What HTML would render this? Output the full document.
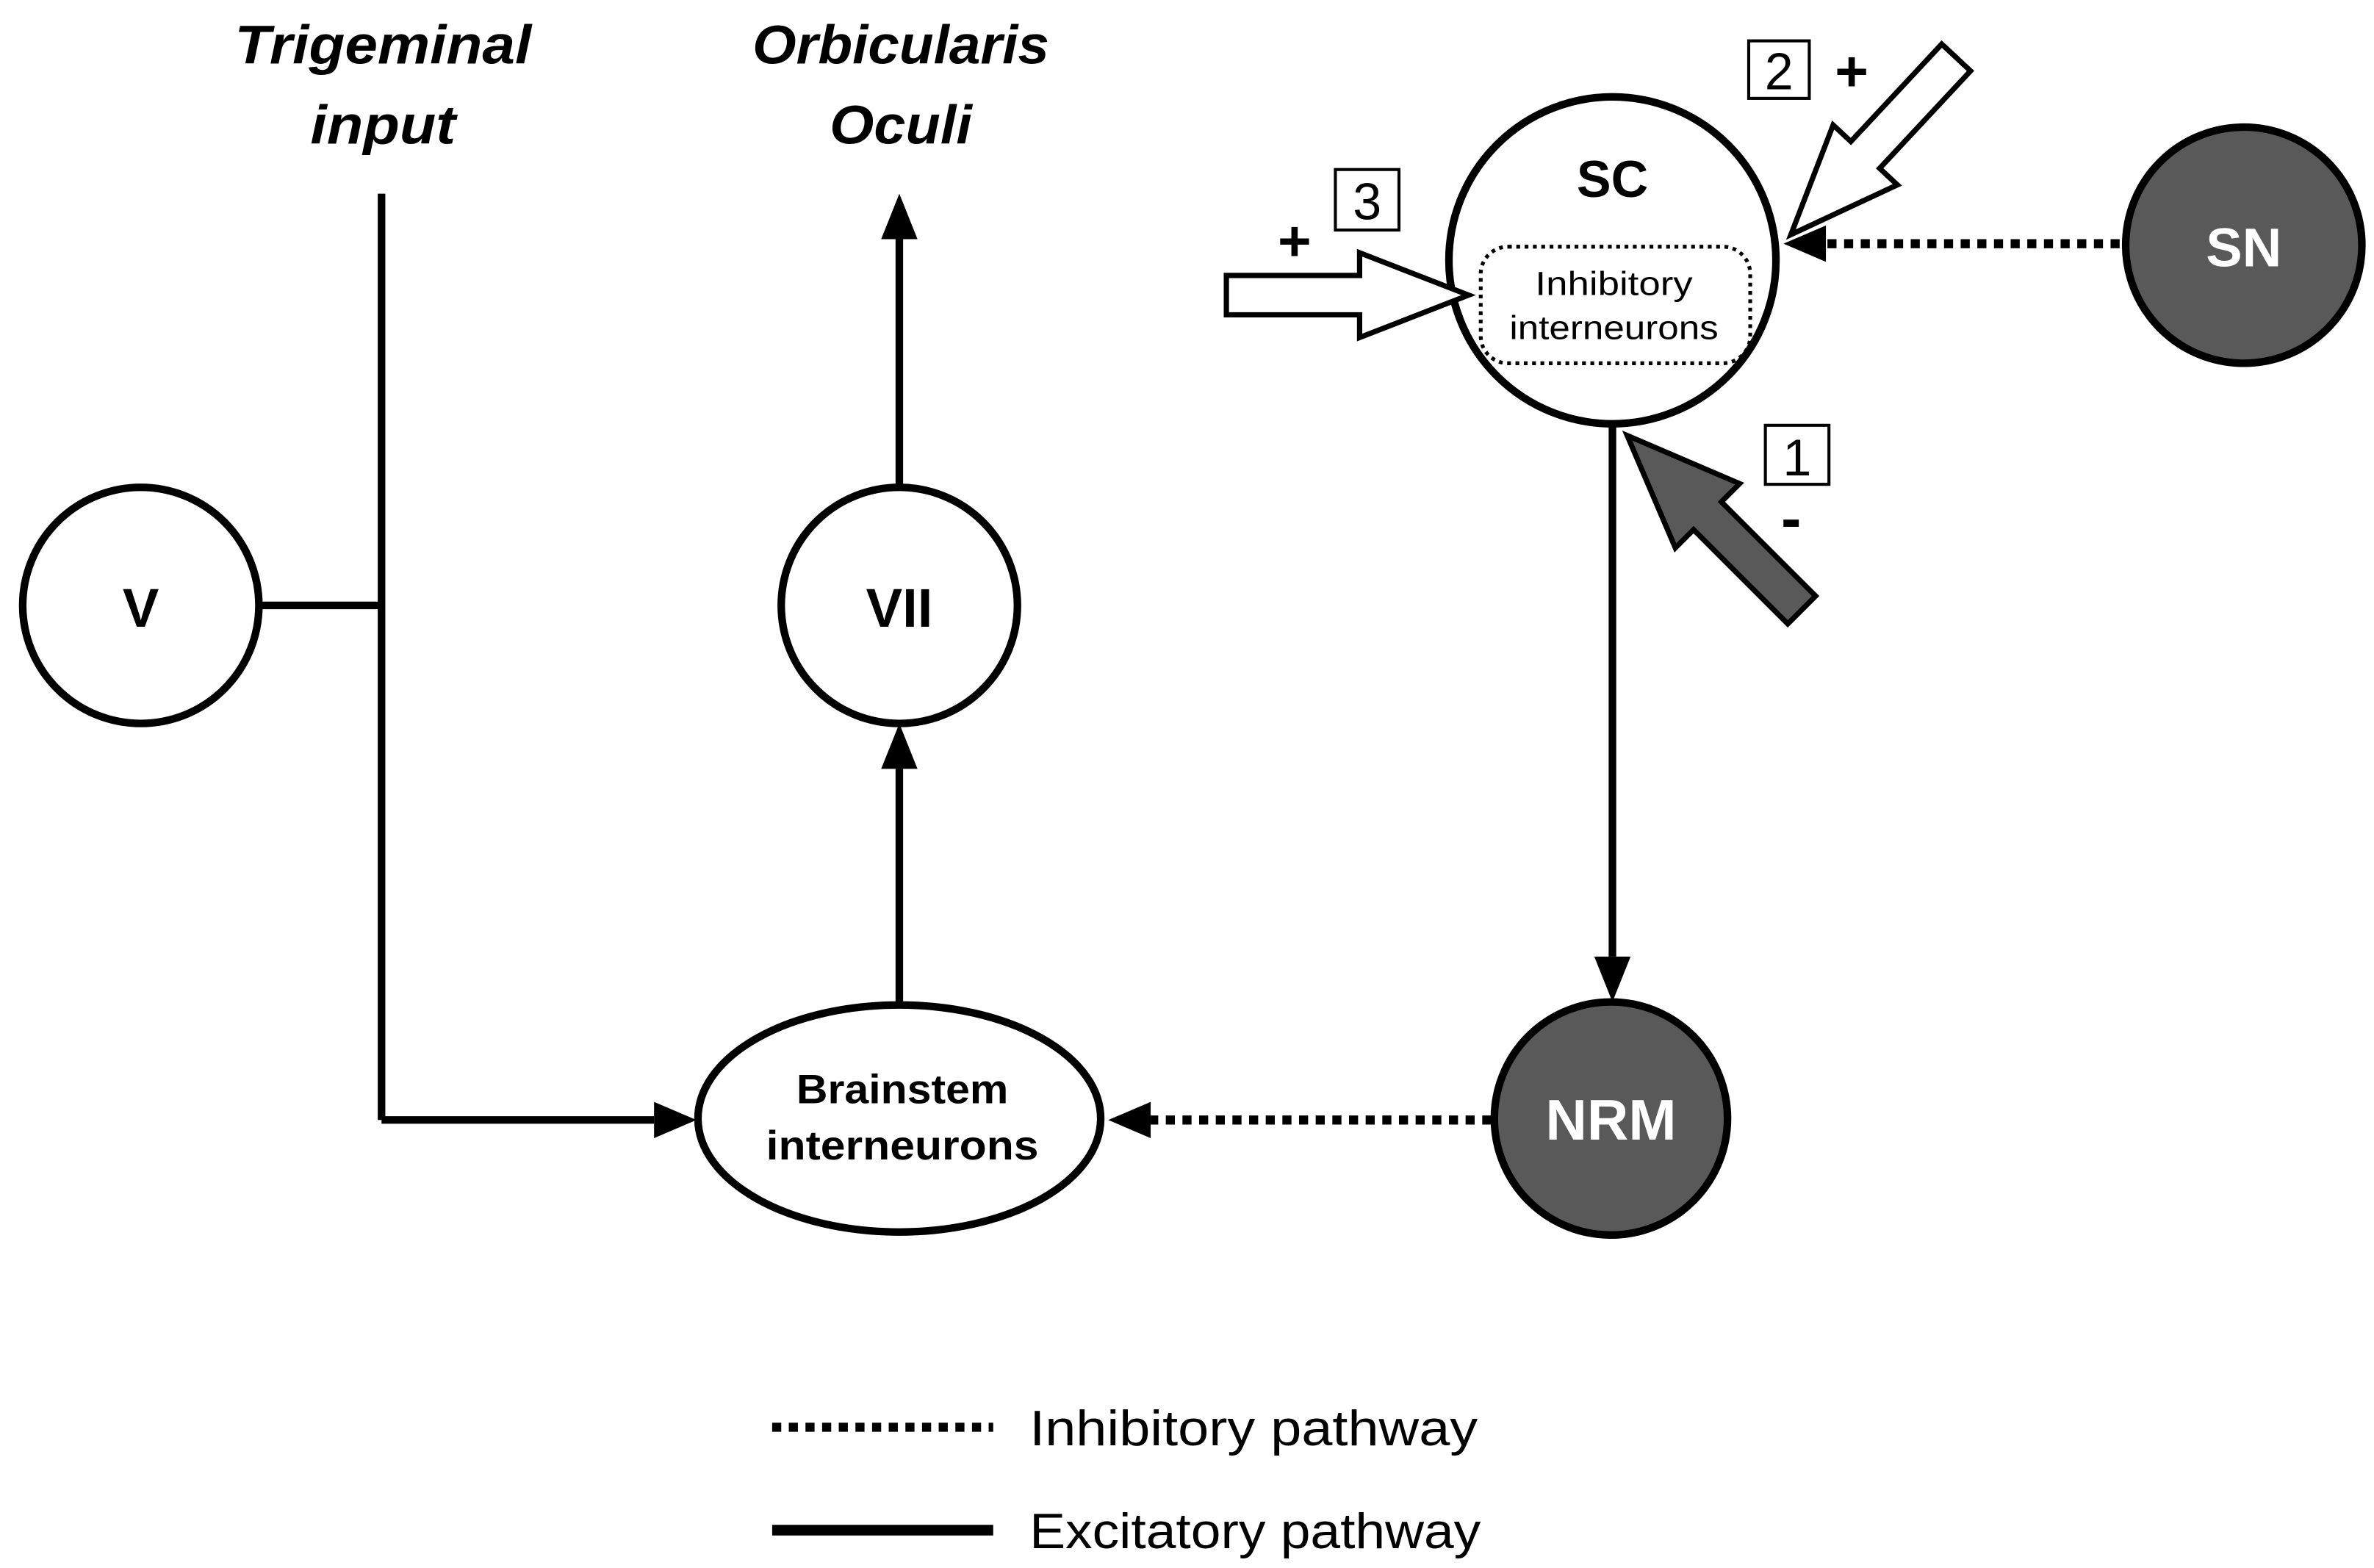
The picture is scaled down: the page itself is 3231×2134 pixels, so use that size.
<!DOCTYPE html>
<html><head><style>html,body{margin:0;padding:0;background:#fff}svg{display:block}</style></head>
<body>
<svg width="3231" height="2134" viewBox="0 0 1568 1036" preserveAspectRatio="none" xmlns="http://www.w3.org/2000/svg" font-family="Liberation Sans, sans-serif">
<g stroke="#000" stroke-width="5" fill="none">
<line x1="252" y1="128" x2="252" y2="740"/>
<line x1="171" y1="400" x2="252" y2="400"/>
<line x1="252" y1="740" x2="432" y2="740"/>
<line x1="594" y1="322" x2="594" y2="158"/>
<line x1="594" y1="662" x2="594" y2="508"/>
<line x1="1065" y1="280" x2="1065" y2="632"/>
</g>
<g fill="#000">
<polygon points="432,728 460,740 432,752"/>
<polygon points="582,158 594,128 606,158"/>
<polygon points="582,508 594,478 606,508"/>
<polygon points="1053,632 1065,662 1077,632"/>
<polygon points="760,728 732,740 760,752"/>
<polygon points="1206,149 1178,161 1206,173"/>
</g>
<g stroke="#000" stroke-width="6" fill="none" stroke-dasharray="6,5">
<line x1="985" y1="740" x2="760" y2="740"/>
<line x1="1400" y1="161" x2="1206" y2="161"/>
<line x1="510" y1="943" x2="656" y2="943"/>
</g>
<line x1="510" y1="1011" x2="656" y2="1011" stroke="#000" stroke-width="7"/>
<g stroke="#000" stroke-width="5">
<circle cx="93" cy="400" r="78" fill="#fff"/>
<circle cx="594" cy="400" r="78" fill="#fff"/>
<ellipse cx="594" cy="739" rx="133" ry="75" fill="#fff"/>
<circle cx="1064" cy="739" r="77" fill="#595959"/>
<circle cx="1065" cy="172" r="108" fill="#fff"/>
<circle cx="1482" cy="162" r="78" fill="#595959"/>
</g>
<rect x="978" y="163" width="178" height="77" rx="18" fill="none" stroke="#000" stroke-width="2.5" stroke-dasharray="2.5,3"/>
<g stroke="#000" stroke-width="3.5" stroke-linejoin="miter">
<polygon points="0,-13 88,-13 88,-28 160,0 88,28 88,13 0,13" fill="#fff" transform="translate(810,195)"/>
<polygon points="0,-13 88,-13 88,-29 160,0 88,29 88,13 0,13" fill="#fff" transform="translate(1292,38) rotate(133)"/>
<polygon points="0,-13 88,-13 88,-30 163,0 88,30 88,13 0,13" fill="#595959" transform="translate(1190,403) rotate(225)"/>
</g>
<g fill="#fff" stroke="#000" stroke-width="2">
<rect x="882" y="112" width="42" height="40"/>
<rect x="1155" y="27" width="40" height="38"/>
<rect x="1166" y="281" width="42" height="39"/>
</g>
<g font-size="34" text-anchor="middle">
<text x="903" y="145">3</text>
<text x="1175" y="59">2</text>
<text x="1187" y="314">1</text>
</g>
<g font-weight="bold" text-anchor="middle">
<text x="855" y="172" font-size="38">+</text>
<text x="1223" y="60" font-size="38">+</text>
<text x="1183" y="356" font-size="40">-</text>
<text x="253" y="42" font-size="36" font-style="italic" textLength="196" lengthAdjust="spacingAndGlyphs">Trigeminal</text>
<text x="253" y="95" font-size="36" font-style="italic" textLength="96" lengthAdjust="spacingAndGlyphs">input</text>
<text x="595" y="42" font-size="36" font-style="italic" textLength="196" lengthAdjust="spacingAndGlyphs">Orbicularis</text>
<text x="595" y="95" font-size="36" font-style="italic" textLength="94" lengthAdjust="spacingAndGlyphs">Oculi</text>
<text x="93" y="414" font-size="36">V</text>
<text x="594" y="414" font-size="36">VII</text>
<text x="596" y="729" font-size="27" textLength="140" lengthAdjust="spacingAndGlyphs">Brainstem</text>
<text x="596" y="766" font-size="27" textLength="180" lengthAdjust="spacingAndGlyphs">interneurons</text>
<text x="1064" y="753" font-size="38" fill="#fff">NRM</text>
<text x="1482" y="176" font-size="36" fill="#fff">SN</text>
<text x="1065" y="130" font-size="34">SC</text>
</g>
<g text-anchor="middle" font-size="22">
<text x="1066" y="195" textLength="104" lengthAdjust="spacingAndGlyphs">Inhibitory</text>
<text x="1066" y="224" textLength="138" lengthAdjust="spacingAndGlyphs">interneurons</text>
</g>
<g font-size="33">
<text x="680" y="955" textLength="296" lengthAdjust="spacingAndGlyphs">Inhibitory pathway</text>
<text x="680" y="1023" textLength="298" lengthAdjust="spacingAndGlyphs">Excitatory pathway</text>
</g>
</svg>
</body></html>
